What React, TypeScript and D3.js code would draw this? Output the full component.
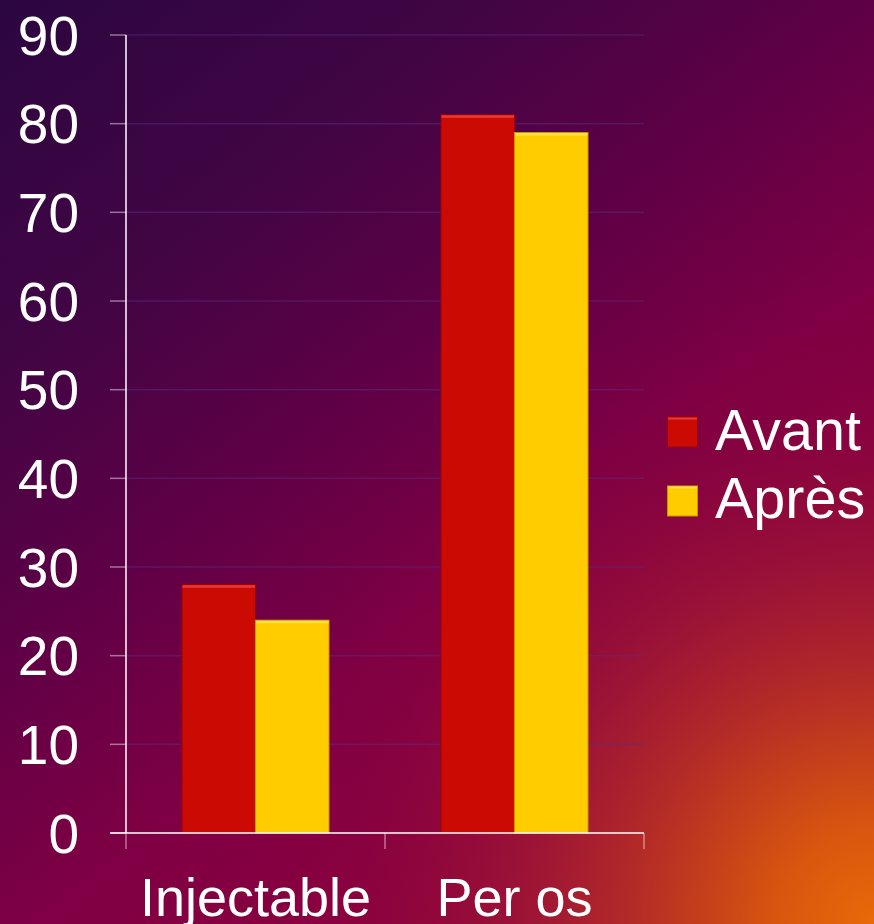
import React from "react";
import * as d3 from "d3";

const categories = ["Injectable", "Per os"];
const seriesNames = ["Avant", "Après"];
const avantValues = [28, 81];
const apresValues = [24, 79];
const yTicks = [0, 10, 20, 30, 40, 50, 60, 70, 80, 90];

const W = 874;
const H = 924;
const fills = ["#cc0a04", "#ffcc00"];
const strokes = ["#9c0202", "#c99800"];
const highlights = ["#e83a3a", "#ffe04a"];

export default function App() {
  const x0 = d3.scaleBand<string>().domain(categories).range([126, 644]).paddingInner(0).paddingOuter(0);
  const x1 = d3.scaleBand<string>().domain(seriesNames).range([0, x0.bandwidth()]).paddingInner(0).paddingOuter(0.762);
  const y = d3.scaleLinear().domain([0, 90]).range([833, 35]);
  const seriesValues = [avantValues, apresValues];
  const font = "'Liberation Sans', Arial, sans-serif";

  return (
    <svg width={W} height={H} style={{ position: "absolute", left: 0, top: 0, display: "block" }}>
      <defs>
        <linearGradient id="bg" gradientUnits="userSpaceOnUse" x1={0} y1={0} x2={600} y2={800}>
          <stop offset="0" stopColor="#2b0640" />
          <stop offset="0.3" stopColor="#420544" />
          <stop offset="0.52" stopColor="#5e0046" />
          <stop offset="0.75" stopColor="#7e0044" />
          <stop offset="1" stopColor="#8c003e" />
        </linearGradient>
        <radialGradient id="glow" gradientUnits="userSpaceOnUse" cx={874} cy={924} r={640}>
          <stop offset="0" stopColor="#e86a08" stopOpacity={1} />
          <stop offset="0.15" stopColor="#d8560f" stopOpacity={1} />
          <stop offset="0.35" stopColor="#b83024" stopOpacity={1} />
          <stop offset="0.55" stopColor="#a01834" stopOpacity={0.8} />
          <stop offset="0.8" stopColor="#92083a" stopOpacity={0.2} />
          <stop offset="1" stopColor="#8c003e" stopOpacity={0} />
        </radialGradient>
      </defs>
      <rect x={0} y={0} width={W} height={H} fill="url(#bg)" />
      <rect x={0} y={0} width={W} height={H} fill="url(#glow)" />

      {yTicks.map((t) => (
        <g key={t}>
          {t > 0 && (
            <line x1={126} x2={644} y1={y(t)} y2={y(t)} stroke="#5a2f86" strokeOpacity={0.45} strokeWidth={1.5} />
          )}
          <line x1={110} x2={126} y1={y(t)} y2={y(t)} stroke="#ffffff" strokeOpacity={0.45} strokeWidth={1.5} />
          <text x={79} y={y(t) + 19.5} fill="#ffffff" fontSize={55} fontFamily={font} textAnchor="end">
            {t}
          </text>
        </g>
      ))}

      {categories.map((c, ci) =>
        seriesNames.map((s, si) => {
          const v = seriesValues[si][ci];
          const bx = (x0(c) as number) + (x1(s) as number);
          const bw = x1.bandwidth();
          const top = y(v);
          const bh = y(0) - top;
          return (
            <g key={c + s}>
              <rect x={bx} y={top} width={bw} height={bh} fill={fills[si]} stroke={strokes[si]} strokeWidth={1} />
              <rect x={bx + 0.5} y={top + 0.5} width={bw - 1} height={2.5} fill={highlights[si]} />
            </g>
          );
        })
      )}

      <line x1={126} x2={126} y1={35} y2={833} stroke="#ffffff" strokeWidth={1.5} />
      <line x1={110} x2={644} y1={833} y2={833} stroke="#ffffff" strokeWidth={1.5} />
      {[0, 1, 2].map((i) => {
        const xp = i < 2 ? (x0(categories[i]) as number) : (x0(categories[1]) as number) + x0.bandwidth();
        return <line key={i} x1={xp} x2={xp} y1={833} y2={849} stroke="#ffffff" strokeOpacity={0.45} strokeWidth={1.5} />;
      })}

      {categories.map((c) => (
        <text
          key={c}
          x={(x0(c) as number) + x0.bandwidth() / 2}
          y={916}
          fill="#ffffff"
          fontSize={54}
          fontFamily={font}
          textAnchor="middle"
        >
          {c}
        </text>
      ))}

      {seriesNames.map((s, si) => (
        <g key={s}>
          <rect x={667.5} y={417 + si * 69} width={30} height={30} fill={fills[si]} stroke={strokes[si]} strokeWidth={1} />
          <rect x={668} y={417.5 + si * 69} width={29} height={2} fill={highlights[si]} />
          <text x={715} y={450 + si * 68} fill="#ffffff" fontSize={57.5} fontFamily={font}>
            {s}
          </text>
        </g>
      ))}
    </svg>
  );
}
